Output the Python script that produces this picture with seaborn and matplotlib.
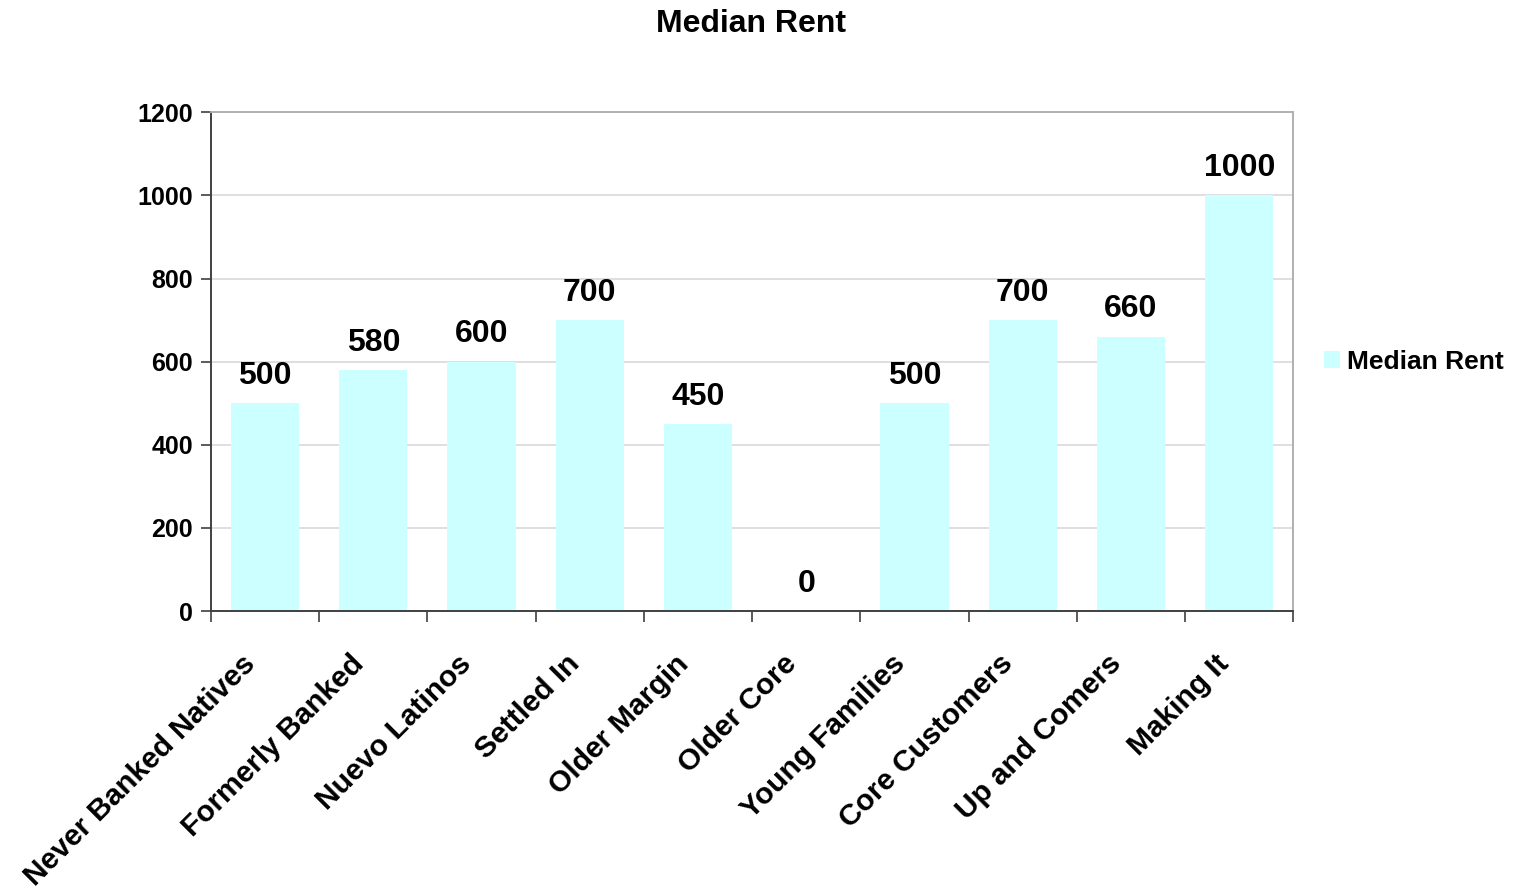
import matplotlib
matplotlib.use("Agg")
import matplotlib.pyplot as plt
import seaborn as sns
import pandas as pd
from matplotlib.patches import Patch
from matplotlib.transforms import ScaledTranslation

segments = ["Never Banked Natives", "Formerly Banked", "Nuevo Latinos", "Settled In",
            "Older Margin", "Older Core", "Young Families", "Core Customers",
            "Up and Comers", "Making It"]
median_rent = [500, 580, 600, 700, 450, 0, 500, 700, 660, 1000]
y_ticks = [0, 200, 400, 600, 800, 1000, 1200]

series_name = "Median Rent"
bar_color = "#CCFFFF"

df = pd.DataFrame({"segment": segments, "rent": median_rent})

sns.set_theme(style="white")
plt.rcParams["font.family"] = ["Liberation Sans", "DejaVu Sans"]
plt.rcParams["font.weight"] = "bold"
plt.rcParams["text.color"] = "black"
plt.rcParams["xtick.color"] = "black"
plt.rcParams["ytick.color"] = "black"

fig = plt.figure(figsize=(15.18, 8.92), dpi=100)
ax = fig.add_axes([0.139, 0.315, 0.713, 0.559])

sns.barplot(data=df, x="segment", y="rent", color=bar_color, saturation=1,
            width=0.63, ax=ax, linewidth=0)

ax.set_ylim(0, 1200)
ax.set_xlim(-0.5, len(segments) - 0.5)
ax.set_yticks(y_ticks)
ax.set_yticklabels([str(v) for v in y_ticks], fontsize=18, fontweight="bold",
                   color="black")
ax.yaxis.grid(True, color="#d9d9d9", linewidth=1.2)
ax.set_axisbelow(True)

# category ticks sit on the boundaries between bars
ax.set_xticks([i - 0.5 for i in range(len(segments) + 1)], minor=False)
ax.set_xticklabels([])
ax.set_xticks(range(len(segments)), minor=True)
ax.set_xticklabels(segments, minor=True, rotation=45, ha="right",
                   rotation_mode="anchor", fontsize=21.5, fontweight="bold",
                   color="black")
ax.tick_params(axis="x", which="minor", length=0, pad=14)
ax.tick_params(axis="x", which="major", length=8, width=1.2, color="#404040",
               direction="out", bottom=True)
ax.tick_params(axis="y", length=7, width=1.2, color="#404040", direction="out",
               left=True, pad=6)
shift = ScaledTranslation(-24 / 100, -19 / 100, fig.dpi_scale_trans)
for lbl in ax.get_xticklabels(minor=True):
    lbl.set_transform(lbl.get_transform() + shift)

ax.set_xlabel("")
ax.set_ylabel("")

for side in ["left", "bottom"]:
    ax.spines[side].set_color("#404040")
    ax.spines[side].set_linewidth(1.4)
for side in ["top", "right"]:
    ax.spines[side].set_visible(True)
    ax.spines[side].set_color("#b0b0b0")
    ax.spines[side].set_linewidth(1.4)

for i, v in enumerate(median_rent):
    ax.annotate(str(v), xy=(i, v), xytext=(0, 9), textcoords="offset points",
                ha="center", va="bottom", fontsize=23, fontweight="bold",
                color="black")

fig.text(0.495, 0.973, "Median Rent", ha="center", va="center",
         fontsize=23, fontweight="bold", color="black")

handles = [Patch(facecolor=bar_color, edgecolor="none", label=series_name)]
fig.legend(handles=handles, loc="center left", bbox_to_anchor=(0.872, 0.594),
           frameon=False, fontsize=19, handlelength=0.6, handleheight=0.6,
           handletextpad=0.3, borderaxespad=0, borderpad=0)

fig.savefig("out.png", dpi=100, facecolor="white")
